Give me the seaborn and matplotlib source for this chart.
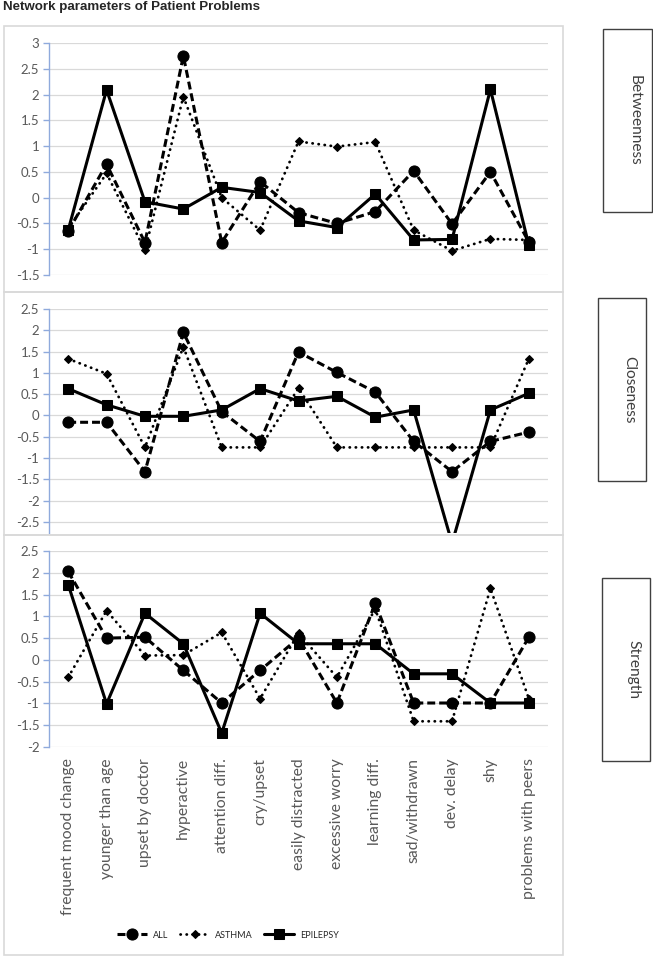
import numpy as np
import pandas as pd
import matplotlib.pyplot as plt
import seaborn as sns
from matplotlib.patches import Rectangle

# Data
categories = ["frequent mood change", "younger than age", "upset by doctor", "hyperactive",
              "attention diff.", "cry/upset", "easily distracted", "excessive worry",
              "learning diff.", "sad/withdrawn", "dev. delay", "shy", "problems with peers"]
series_names = ["ALL", "ASTHMA", "EPILEPSY"]

betweenness_all = [-0.65, 0.65, -0.87, 2.75, -0.87, 0.31, -0.29, -0.50, -0.27, 0.52, -0.51, 0.50, -0.86]
betweenness_asthma = [-0.60, 0.47, -1.02, 1.96, 0.00, -0.63, 1.09, 0.99, 1.08, -0.63, -1.03, -0.80, -0.82]
betweenness_epilepsy = [-0.63, 2.09, -0.08, -0.22, 0.20, 0.10, -0.45, -0.58, 0.07, -0.82, -0.81, 2.10, -0.92]

closeness_all = [-0.16, -0.16, -1.32, 1.95, 0.09, -0.61, 1.49, 1.01, 0.55, -0.61, -1.32, -0.61, -0.39]
closeness_asthma = [1.33, 0.98, -0.75, 1.61, -0.75, -0.75, 0.64, -0.75, -0.75, -0.75, -0.75, -0.75, 1.33]
closeness_epilepsy = [0.63, 0.25, -0.02, -0.02, 0.13, 0.63, 0.34, 0.45, -0.04, 0.13, -3.00, 0.13, 0.52]

strength_all = [2.03, 0.50, 0.52, -0.24, -0.99, -0.24, 0.50, -0.99, 1.30, -0.99, -0.99, -0.99, 0.52]
strength_asthma = [-0.40, 1.13, 0.10, 0.11, 0.63, -0.89, 0.61, -0.40, 1.17, -1.41, -1.41, 1.64, -0.89]
strength_epilepsy = [1.73, -1.01, 1.07, 0.37, -1.68, 1.07, 0.37, 0.37, 0.37, -0.32, -0.32, -0.99, -0.99]

sns.set_style("white")
plt.rcParams['font.family'] = ['Lato', 'DejaVu Sans']

W, H = 653, 959
fig = plt.figure(figsize=(W / 100, H / 100), dpi=100)

def fx(px):
    return px / W

def fy(py):
    return 1 - py / H

# line styles per series
styles = {
    "ALL": dict(linestyle=(0, (2.6, 1.3)), marker="o", markersize=8, linewidth=2.2),
    "ASTHMA": dict(linestyle=(0, (0.1, 2.1)), marker="D", markersize=4.5, linewidth=2.0,
                   dash_capstyle="round"),
    "EPILEPSY": dict(linestyle="-", marker="s", markersize=7, linewidth=2.2),
}

panels = [
    ("Betweenness", [betweenness_all, betweenness_asthma, betweenness_epilepsy],
     (-1.5, 3.0), np.arange(-1.5, 3.01, 0.5), (43, 275), (603, 29, 652, 212)),
    ("Closeness", [closeness_all, closeness_asthma, closeness_epilepsy],
     (-2.76, 2.5), np.arange(-2.5, 2.51, 0.5), (309, 533), (598, 298, 646, 481)),
    ("Strength", [strength_all, strength_asthma, strength_epilepsy],
     (-2.0, 2.5), np.arange(-2.0, 2.51, 0.5), (551, 747), (602, 578, 650, 761)),
]

# chart boxes
for top, bottom in [(26, 292), (292, 535), (535, 955)]:
    fig.add_artist(Rectangle((fx(4), fy(bottom)), fx(563) - fx(4), fy(top) - fy(bottom),
                             transform=fig.transFigure, fill=False,
                             edgecolor="#d9d9d9", linewidth=1.2))

x_idx = np.arange(len(categories))
for i, (name, data, ylim, ticks, (ptop, pbot), box) in enumerate(panels):
    ax = fig.add_axes([fx(49), fy(pbot), fx(548) - fx(49), fy(ptop) - fy(pbot)])
    for sname, vals in zip(series_names, data):
        sns.lineplot(x=x_idx, y=vals, color="black", ax=ax, label=sname,
                     markeredgecolor="black", legend=False, **styles[sname])
    ax.set_xlim(-0.5, len(categories) - 0.5)
    ax.set_ylim(*ylim)
    ax.set_yticks(ticks)
    ax.set_yticklabels([f"{t:g}" for t in ticks])
    ax.yaxis.grid(True, color="#d9d9d9", linewidth=0.9)
    ax.set_axisbelow(True)
    ax.set_facecolor("none")
    for s in ["top", "right", "bottom"]:
        ax.spines[s].set_visible(False)
    ax.spines["left"].set_color("#8faadc")
    ax.spines["left"].set_linewidth(1.0)
    ax.tick_params(axis="y", colors="#8faadc", labelcolor="#595959", labelsize=9.5,
                   length=4, width=1.0, direction="out", pad=3, left=True)
    ax.tick_params(axis="x", length=0)
    ax.set_xlabel("")
    ax.set_ylabel("")
    ax.set_xticks(x_idx)
    if i < 2:
        ax.set_xticklabels([])
    else:
        ax.set_xticklabels(categories, rotation=90, color="#595959", fontsize=11.3,
                           va="top", ha="center")
        ax.tick_params(axis="x", pad=8)
        handles, labels = ax.get_legend_handles_labels()
        fig.legend(handles, labels, loc="center", bbox_to_anchor=(fx(228), fy(935)),
                   ncol=3, frameon=False, fontsize=6.5, handlelength=3.3,
                   columnspacing=1.3, handletextpad=0.6)
    # label box on the right
    x0, y0, x1, y1 = box
    fig.add_artist(Rectangle((fx(x0), fy(y1)), fx(x1) - fx(x0), fy(y0) - fy(y1),
                             transform=fig.transFigure, fill=False,
                             edgecolor="#404040", linewidth=1.0))
    fig.text(fx((x0 + x1) / 2 + 7), fy((y0 + y1) / 2), name, rotation=270,
             ha="center", va="center", fontsize=11.2, color="#404040")

fig.text(fx(3), fy(7), "Network parameters of Patient Problems", ha="left", va="center",
         fontsize=9.6, fontweight="bold", family=["Liberation Sans", "DejaVu Sans"])

fig.savefig("out.png", dpi=100)
